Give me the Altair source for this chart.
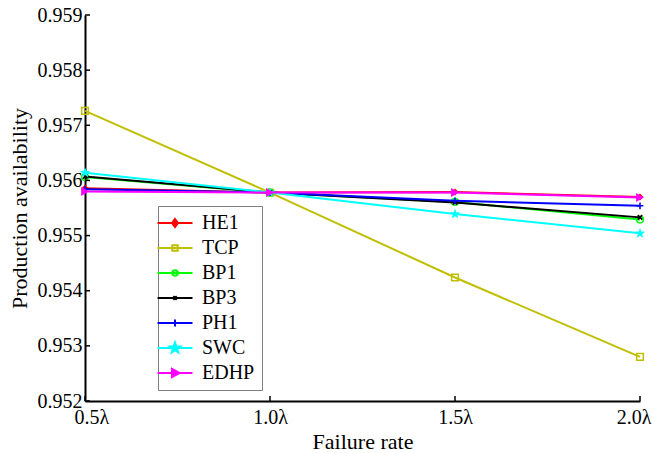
import math
import altair as alt
import pandas as pd

# ---------------- data ----------------
rates = [0.5, 1.0, 1.5, 2.0]
series_names = ["HE1", "TCP", "BP1", "BP3", "PH1", "SWC", "EDHP"]
HE1 = [0.95586, 0.95578, 0.95579, 0.95570]
TCP = [0.95726, 0.95578, 0.95424, 0.95280]
BP1 = [0.95606, 0.95578, 0.95561, 0.95529]
BP3 = [0.95607, 0.95578, 0.95560, 0.95533]
PH1 = [0.95584, 0.95578, 0.95563, 0.95554]
SWC = [0.95614, 0.95578, 0.95539, 0.95504]
EDHP = [0.95580, 0.95578, 0.95578, 0.95569]
y_ticks = [0.952, 0.953, 0.954, 0.955, 0.956, 0.957, 0.958, 0.959]
x_ticks = [0.5, 1.0, 1.5, 2.0]

values = {"HE1": HE1, "TCP": TCP, "BP1": BP1, "BP3": BP3,
          "PH1": PH1, "SWC": SWC, "EDHP": EDHP}
rows = []
for s in series_names:
    for r, v in zip(rates, values[s]):
        rows.append({"series": s, "rate": r, "value": v})
df = pd.DataFrame(rows)
ydf = pd.DataFrame({"rate": [0.5] * len(y_ticks), "value": y_ticks})
xdf = pd.DataFrame({"rate": x_ticks, "value": [0.952] * len(x_ticks)})

# ---------------- styles ----------------
def star_path(ro, ri):
    pts = []
    for k in range(10):
        r = ro if k % 2 == 0 else ri
        a = -math.pi / 2 + k * math.pi / 5
        pts.append(f"{r*math.cos(a):.3f},{r*math.sin(a):.3f}")
    return "M" + "L".join(pts) + "Z"

colors = {"HE1": "#ff0000", "TCP": "#bfbf00", "BP1": "#00ff00", "BP3": "#000000",
          "PH1": "#0000ff", "SWC": "#00ffff", "EDHP": "#ff00ff"}
XPATH = "M-1,-1L1,1M-1,1L1,-1"
PPATH = "M-1,0L1,0M0,-1L0,1"
markers = {
    "HE1": dict(shape="diamond", filled=True, size=50),
    "TCP": dict(shape="square", filled=False, size=45),
    "BP1": dict(shape="circle", filled=False, size=45),
    "BP3": dict(shape=XPATH, filled=False, size=20),
    "PH1": dict(shape=PPATH, filled=False, size=45),
    "SWC": dict(shape=star_path(1.0, 0.42), filled=True, size=120),
    "EDHP": dict(shape="triangle-right", filled=True, size=80),
}

# legend symbol paths (line + marker); 1 unit = 5 px with symbolSize 100
LINE = "M-3.5,0H3.5"
legend_paths = {
    "HE1": LINE + "M0,-0.8L0.6,0L0,0.8L-0.6,0Z",
    "TCP": LINE + "M-0.55,-0.55H0.55V0.55H-0.55Z",
    "BP1": LINE + "M-0.55,0A0.55,0.55 0 1,0 0.55,0A0.55,0.55 0 1,0 -0.55,0Z",
    "BP3": LINE + "M-0.35,-0.35L0.35,0.35M-0.35,0.35L0.35,-0.35",
    "PH1": LINE + "M0,-0.7V0.7",
    "SWC": LINE + star_path(1.1, 0.45),
    "EDHP": LINE + "M-0.6,-0.8L0.9,0L-0.6,0.8Z",
}
legend_fill = {s: (colors[s] if markers[s]["filled"] else "transparent") for s in series_names}

W, H = 555, 386
FONT = "Times New Roman, Liberation Serif, DejaVu Serif, serif"

xscale = alt.Scale(domain=[0.5, 2.0], nice=False, zero=False)
yscale = alt.Scale(domain=[0.952, 0.959], nice=False, zero=False)
xaxis = alt.Axis(values=x_ticks, title="Failure rate", labelExpr="format(datum.value, '.1f') + 'λ'",
                 tickSize=0, labelPadding=6, labelFlush=True, labelFlushOffset=11,
                 titlePadding=4, grid=False, orient="bottom",
                 labelFont=FONT, titleFont=FONT)
yaxis = alt.Axis(values=y_ticks, title="Production availability", format=".3f",
                 tickSize=0, labelPadding=3, titlePadding=6, grid=False, orient="left",
                 labelFont=FONT, titleFont=FONT)
xenc = alt.X("rate:Q", scale=xscale, axis=xaxis)
yenc = alt.Y("value:Q", scale=yscale, axis=yaxis)

layers = []
for s in series_names:
    base = alt.Chart(df).transform_filter(alt.datum.series == s)
    layers.append(base.mark_line(color=colors[s], strokeWidth=2).encode(x=xenc, y=yenc))
    m = markers[s]
    pt = base.mark_point(shape=m["shape"], filled=m["filled"], size=m["size"],
                         color=colors[s], strokeWidth=1.5, opacity=1)
    layers.append(pt.encode(x=xenc, y=yenc))

# inward ticks
ytick_layer = alt.Chart(ydf).mark_rule(color="black", strokeWidth=1.5).encode(
    y=yenc, x=alt.value(0), x2=alt.value(5))
xtick_layer = alt.Chart(xdf).mark_rule(color="black", strokeWidth=1.5).encode(
    x=xenc, y=alt.value(H), y2=alt.value(H - 5))

# legend layer (no marks, only legend)
legend = alt.Legend(title=None, orient="none", legendX=73, legendY=191,
                    strokeColor="#808080", fillColor="white", padding=7,
                    symbolSize=100, symbolStrokeWidth=2,
                    labelFont=FONT, labelFontSize=20, labelColor="black",
                    labelOffset=17, rowPadding=5)
legend_layer = alt.Chart(df).transform_filter("false").mark_point(
    filled=True, opacity=1, strokeWidth=2).encode(
    x=xenc, y=yenc,
    fill=alt.Fill("series:N", scale=alt.Scale(domain=series_names,
                                              range=[legend_fill[s] for s in series_names]), legend=legend),
    stroke=alt.Stroke("series:N", scale=alt.Scale(domain=series_names,
                                                  range=[colors[s] for s in series_names]), legend=legend),
    shape=alt.Shape("series:N", scale=alt.Scale(domain=series_names,
                                                range=[legend_paths[s] for s in series_names]), legend=legend),
)

chart = alt.layer(*layers, ytick_layer, xtick_layer, legend_layer).properties(
    width=W, height=H,
    autosize=alt.AutoSizeParams(type="none"),
    padding={"left": 85, "top": 15, "right": 12, "bottom": 52},
    background="white",
).configure_view(stroke=None).configure_axis(
    domainColor="black", domainWidth=2,
    labelFont=FONT, labelFontSize=20, labelColor="black",
    titleFont=FONT, titleFontSize=22, titleColor="black", titleFontWeight="normal",
)

chart.save("out.html", embed_options={"renderer": "svg", "actions": False})
